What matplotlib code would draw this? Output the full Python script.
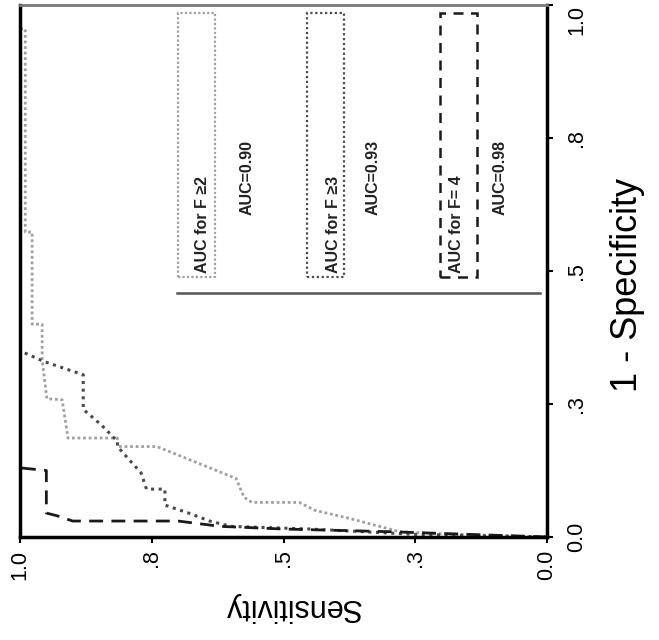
import matplotlib
matplotlib.use("Agg")
import matplotlib.pyplot as plt
from matplotlib.patches import Rectangle

plt.rcParams["font.family"] = ["Liberation Sans", "DejaVu Sans"]

fpr_f2 = [0.0, 0.005, 0.01, 0.035, 0.05, 0.065, 0.065, 0.075, 0.11, 0.17, 0.17, 0.186,
          0.186, 0.258, 0.26, 0.333, 0.40, 0.40, 0.573, 0.573, 0.955, 0.955, 1.0]
sens_f2 = [0.0, 0.18, 0.28, 0.375, 0.44, 0.47, 0.56, 0.575, 0.59, 0.74, 0.815, 0.815,
           0.909, 0.92, 0.949, 0.958, 0.958, 0.977, 0.977, 0.99, 0.99, 1.0, 1.0]

fpr_f3 = [0.0, 0.005, 0.015, 0.02, 0.03, 0.045, 0.06, 0.09, 0.09, 0.12, 0.17, 0.18,
          0.21, 0.24, 0.305, 0.33, 0.35, 1.0]
sens_f3 = [0.0, 0.25, 0.45, 0.60, 0.64, 0.68, 0.725, 0.725, 0.76, 0.77, 0.815, 0.815,
           0.845, 0.88, 0.88, 0.955, 1.0, 1.0]

fpr_f4 = [0.0, 0.01, 0.015, 0.02, 0.03, 0.03, 0.04, 0.045, 0.125, 0.13, 1.0]
sens_f4 = [0.0, 0.30, 0.50, 0.62, 0.70, 0.90, 0.93, 0.95, 0.95, 1.0, 1.0]

labels = ["AUC for F \u22652", "AUC for F \u22653", "AUC for F= 4"]
aucs = ["AUC=0.90", "AUC=0.93", "AUC=0.98"]

tick_vals = [0.0, 0.25, 0.5, 0.75, 1.0]
tick_text = ["0.0", ".3", ".5", ".8", "1.0"]

fig = plt.figure(figsize=(6.59, 6.40), dpi=100)
ax = fig.add_axes([20 / 659, 103 / 640, 527 / 659, 532 / 640])

# the figure is drawn turned a quarter turn: sensitivity runs along x (reversed),
# 1 - specificity runs up the right side
ax.plot(sens_f2, fpr_f2, color="#a0a0a0", lw=2.0, ls=(0, (1, 1)))
ax.plot(sens_f3, fpr_f3, color="#4a4a4a", lw=2.2, ls=(0, (1, 1.5)))
ax.plot(sens_f4, fpr_f4, color="#1a1a1a", lw=2.0, ls=(0, (5, 3)))

ax.set_xlim(1, 0)
ax.set_ylim(0, 1)

ax.yaxis.tick_right()
ax.yaxis.set_label_position("right")
ax.set_xticks(tick_vals)
ax.set_xticklabels(tick_text, rotation=90, fontsize=15.5)
ax.set_yticks(tick_vals)
ax.set_yticklabels(tick_text, rotation=90, fontsize=15.5, va="center")
ax.tick_params(axis="x", direction="out", length=4, width=1.5, pad=5)
ax.tick_params(axis="y", direction="out", length=4, width=1.5, pad=10)
# top label sits just below its tick, as in the picture
ax.yaxis.get_major_ticks()[-1].label2.set_va("top")

ax.set_xlabel("Sensitivity", fontsize=22, rotation=180, va="center")
ax.xaxis.set_label_coords(0.516, -0.132)
ax.set_ylabel("1 - Specificity", fontsize=26, rotation=90, va="center", ha="center")
ax.yaxis.set_label_coords(1.152, 0.474)

for side in ["left", "bottom", "right"]:
    ax.spines[side].set_linewidth(2.5)
    ax.spines[side].set_color("black")
ax.spines["top"].set_linewidth(2.0)
ax.spines["top"].set_color("#777777")

# legend, drawn by hand as in the picture
box_x = [0.300, 0.545, 0.797]
text_x = [0.347, 0.594, 0.828]
auc_x = [0.431, 0.670, 0.911]
styles = [dict(color="#a0a0a0", ls=(0, (1, 1)), lw=1.6),
          dict(color="#4a4a4a", ls=(0, (1, 1.2)), lw=1.6),
          dict(color="#1a1a1a", ls=(0, (4, 3)), lw=1.8)]
for i in range(3):
    ax.add_patch(Rectangle((box_x[i], 0.489), 0.07, 0.496, transform=ax.transAxes,
                           fill=False, **styles[i]))
    ax.text(text_x[i], 0.497, labels[i], transform=ax.transAxes, rotation=90,
            rotation_mode="anchor", ha="left", va="center", fontsize=11.5,
            fontweight="bold", color="#222222")
    ax.text(auc_x[i], 0.675, aucs[i], transform=ax.transAxes, rotation=90,
            ha="center", va="center", fontsize=11.5,
            fontweight="bold", color="#222222")
ax.plot([0.298, 0.987], [0.459, 0.459], transform=ax.transAxes, color="#555555", lw=1.8)

fig.savefig("out.png", dpi=100)
